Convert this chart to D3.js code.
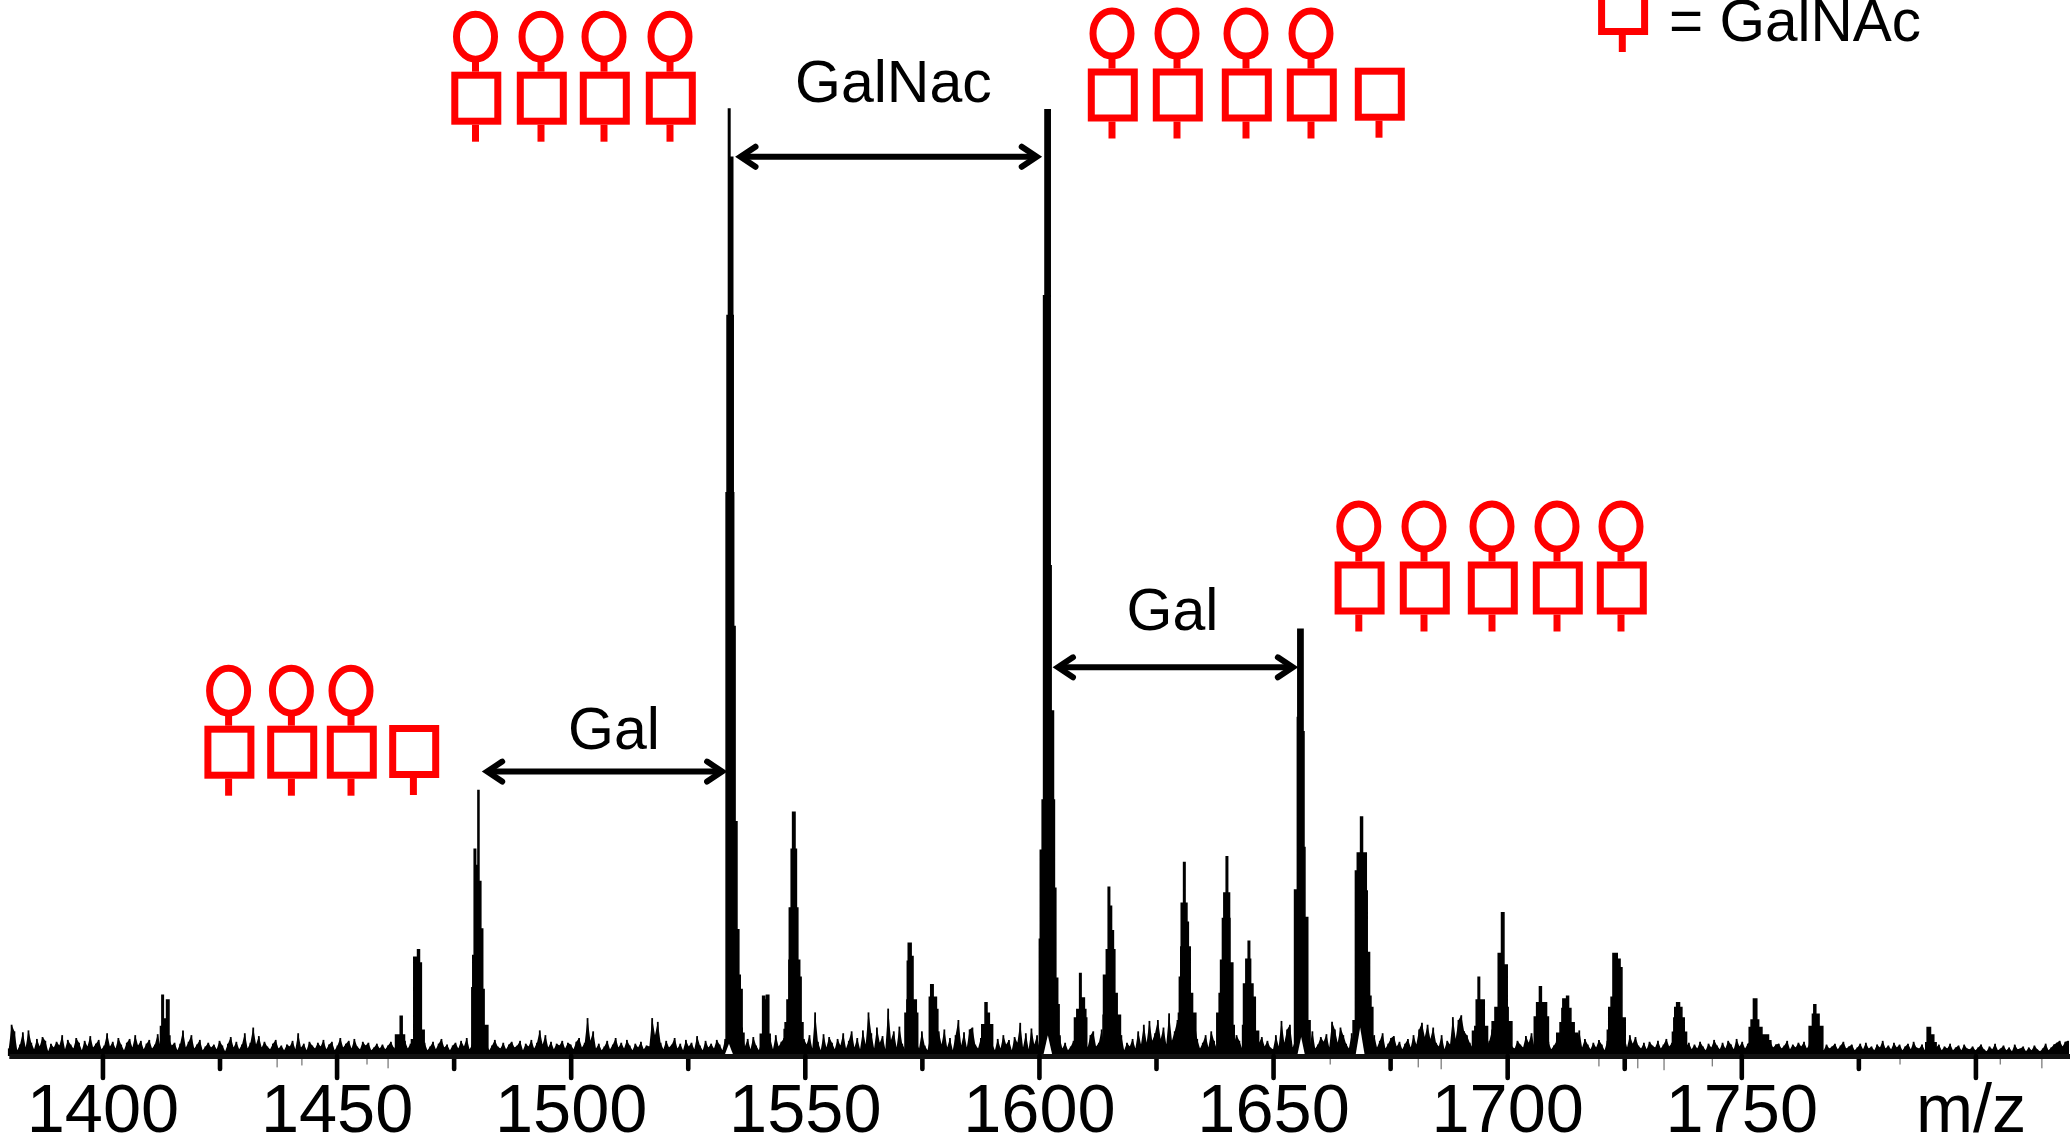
<!DOCTYPE html>
<html>
<head>
<meta charset="utf-8">
<title>m/z spectrum</title>
<script src="https://cdn.jsdelivr.net/npm/d3@7"></script>
<style>
  html, body { margin: 0; padding: 0; background: #fff; }
  svg { display: block; }
  text { font-family: "Liberation Sans", Arial, sans-serif; fill: #000; }
</style>
</head>
<body>
<div id="chart"></div>
<script>
// tick labels
var majorTicks = [1400, 1450, 1500, 1550, 1600, 1650, 1700, 1750, 1800];
var minorTicks = [1425, 1475, 1525, 1575, 1625, 1675, 1725, 1775];
var unlabelled = [1800];

// noise floor, relative intensity (tallest peak = 1000), one value every 0.6 m/z from 1380
var noiseStart = 1380;
var noiseStep = 0.6;
var noise = [
  8,33,26,6,12,25,9,27,14,7,18,10,20,16,5,13,9,15,11,22,7,17,12,8,19,14,6,16,10,21,9,13,17,7,11,24,10,15,8,19,12,6,14,18,9,22,11,16,7,13,
  17,8,12,23,10,15,7,19,11,14,6,13,27,9,15,22,8,12,17,6,10,14,9,12,7,16,11,5,13,20,9,15,7,12,24,8,14,30,12,21,9,15,10,7,13,17,8,11,6,12,
  10,16,7,24,9,13,6,15,11,8,14,10,17,7,12,15,6,11,19,9,13,16,8,18,10,7,15,11,14,6,9,13,8,12,7,11,15,9,6,12,10,16,8,13,7,15,9,12,14,6,
  10,15,7,13,18,9,12,6,11,14,8,16,10,19,7,12,15,9,18,8,13,6,11,17,10,8,14,7,12,15,9,11,16,6,13,10,17,8,14,27,12,22,9,15,7,13,11,16,8,14,
  12,7,15,19,9,14,40,16,26,8,13,6,10,16,7,12,19,9,14,8,17,11,6,13,9,15,7,11,10,40,22,36,14,7,16,9,12,19,8,13,6,17,10,14,7,21,11,6,16,9,
  13,8,17,12,6,18,14,9,19,7,15,30,10,18,7,20,11,6,16,14,8,19,7,22,10,15,19,8,14,21,9,17,7,18,12,22,8,46,15,6,23,9,20,14,7,18,11,24,8,16,
  26,9,19,7,27,12,46,24,8,30,14,21,7,50,17,26,9,31,13,7,24,10,28,15,8,26,11,6,20,14,7,26,12,28,9,19,6,22,38,11,25,9,28,30,12,8,19,24,10,27,
  13,6,18,8,22,12,17,6,20,14,35,9,24,7,29,12,22,6,19,14,9,16,7,12,20,8,14,6,10,16,11,20,7,18,9,22,26,10,14,28,7,16,24,9,19,12,22,6,14,10,
  18,8,26,12,33,14,37,16,24,38,18,30,12,45,16,26,38,14,33,40,12,36,40,18,8,14,22,9,26,16,7,14,25,11,28,50,13,22,16,8,26,12,18,24,8,14,20,10,16,9,
  7,22,10,37,14,28,33,9,18,7,24,12,21,10,26,8,12,20,15,23,9,36,28,14,30,22,13,8,24,9,17,26,11,19,7,14,22,9,16,24,8,13,19,21,10,15,7,13,18,9,
  22,12,28,35,20,33,18,30,14,10,22,7,16,12,41,18,38,43,26,22,14,9,16,11,7,14,10,16,28,12,24,9,22,14,20,10,8,16,12,9,21,14,24,10,7,18,12,9,15,7,
  11,16,8,13,26,14,22,25,16,27,9,18,12,7,14,9,17,12,6,16,8,13,19,10,15,21,9,22,13,20,11,8,14,7,15,11,9,16,8,12,18,10,14,9,15,7,12,10,14,7,
  12,8,15,10,6,13,9,17,11,7,14,8,16,12,7,18,10,15,8,13,16,9,12,6,14,10,7,15,9,12,13,8,11,16,7,12,9,14,10,15,8,13,7,11,14,9,6,12,8,10,
  13,7,11,15,8,10,12,6,9,13,7,14,8,10,6,12,9,16,8,11,7,14,9,12,6,10,13,7,15,9,8,12,6,11,14,7,9,12,6,10,8,13,6,9,11,6,12,8,7,10,
  6,9,12,7,5,10,7,13,6,8,11,6,9,5,12,7,8,10,5,9,6,11,7,5,8,13,6,9,12,14,16,10,15,16
];

// isotope envelopes: m/z of each step and the intensity that holds until the next step
var peakMz = [
  1412.4,1412.7,1413.0,1413.7,1414.2,1414.4,
  1462.6,1463.6,1464.0,1464.5,
  1466.0,1466.5,1467.3,1467.7,1468.1,1468.7,
  1478.9,1479.1,1479.4,1479.7,1480.2,1480.4,1480.8,1481.2,1481.5,1482.3,
  1533.2,1533.4,1533.7,1534.0,1534.3,1534.6,1534.7,1534.8,1535.1,1535.5,1535.9,1536.2,1536.6,1537.0,
  1540.5,1541.0,1541.4,1541.8,1542.3,1542.6,
  1545.6,1545.8,1546.2,1546.6,1546.7,1547.1,1547.4,1547.9,1548.2,1548.5,1548.9,1549.2,1549.6,
  1571.4,1571.8,1571.9,1572.1,1572.7,1573.1,1573.8,1574.1,
  1576.6,1576.9,1577.4,1577.7,1578.1,1578.4,
  1587.8,1588.5,1588.9,1589.4,1590.1,
  1600.1,1600.3,1600.7,1601.0,1601.3,1602.4,1602.6,1603.1,1603.3,1603.6,1604.0,1604.3,1604.5,
  1607.6,1608.1,1608.7,1609.0,1609.7,1610.0,1610.2,
  1613.7,1613.8,1614.4,1614.8,1615.1,1615.5,1615.9,1616.2,1616.7,1617.4,
  1629.8,1630.0,1630.3,1630.4,1630.9,1631.2,1631.6,1631.9,1632.3,1632.8,1633.5,
  1638.0,1638.5,1638.8,1639.2,1639.5,1640.0,1640.3,1640.7,1640.8,1641.0,1641.4,1641.7,
  1643.5,1643.7,1644.2,1644.7,1645.0,1645.2,1645.7,1646.2,1646.9,
  1654.6,1655.2,1655.3,1655.8,1655.9,1656.4,1656.6,1656.8,1657.4,1657.9,
  1667.1,1667.6,1668.0,1668.7,1669.1,1669.9,1670.1,1670.6,1670.9,1671.3,
  1692.6,1693.1,1693.4,1693.8,1694.1,1695.1,1695.8,
  1696.8,1697.4,1698.1,1698.8,1699.3,1700.0,1700.2,1701.0,
  1705.8,1706.3,1706.9,1707.3,1708.4,1708.8,
  1710.6,1711.3,1711.7,1711.9,1712.6,1712.7,1713.1,1713.6,1714.3,1715.0,
  1721.4,1721.7,1722.2,1722.6,1723.5,1724.1,1724.5,1725.2,
  1735.3,1735.6,1735.8,1736.2,1736.8,1737.3,1737.8,1738.3,
  1751.7,1752.1,1752.6,1753.3,1753.7,1754.4,1754.7,1755.8,1756.3,
  1764.5,1765.2,1765.5,1765.9,1766.6,1767.4,
  1789.4,1789.7,1790.4,1791.1,1791.6
];
var peakInt = [
  31,64,39,59,21,0,
  22,42,22,0,
  17,104,112,98,27,0,
  72,106,218,201,280,184,134,70,32,0,
  594,781,999,875,948,781,594,453,247,133,85,70,24,0,
  23,63,59,64,23,0,
  28,35,59,101,156,218,257,218,156,101,83,35,0,
  45,59,100,119,105,59,45,0,
  62,75,53,62,49,0,
  33,56,45,33,0,
  123,217,270,802,998,517,364,270,177,82,54,21,0,
  40,49,87,61,49,40,0,
  43,85,112,178,158,132,112,66,43,0,
  45,83,115,161,204,161,141,115,66,45,0,
  45,66,101,145,172,210,172,145,90,98,32,0,
  32,76,102,121,102,76,62,26,0,
  175,357,450,422,450,342,220,146,37,0,
  37,195,214,252,214,174,109,63,51,0,
  26,31,59,83,59,31,0,
  36,51,108,151,96,51,36,0,
  41,56,73,56,41,0,
  24,35,50,60,55,63,50,35,24,0,
  27,51,62,108,102,93,40,0,
  25,40,51,56,51,40,25,0,
  30,38,60,38,30,16,22,16,0,
  31,44,54,44,31,0,
  14,30,22,14,0
];

// white gaps at the feet of the biggest peaks
var gapMz = [1533.8, 1601.9, 1656.0, 1668.6];
var gapWidth = [2.0, 2.0, 1.7, 2.0];
var gapInt = [13, 22, 20, 30];

// small dips under the baseline
var dipMz = [1437.3,1442.6,1456.5,1461.0,1662.2,1681.0,1685.9,1719.6,1727.9,1733.5,1743.8,1783.9,1805.3,1814.2];
var dipInt = [-12,-10,-9,-13,-9,-12,-14,-11,-13,-15,-11,-9,-9,-13];

// arrows between peaks: m/z from, m/z to, intensity level
var arrowFrom = [1481.1, 1535.2, 1603.0];
var arrowTo = [1533.4, 1600.6, 1655.3];
var arrowLevel = [300, 948.6, 410];
var arrowLabels = ["Gal", "GalNac", "Gal"];

// glycan cartoons, one list of stem positions per group
var glycanStems = [
  [228.6, 291.4, 351],
  [475.5, 541, 604, 670],
  [1112, 1177, 1246, 1311],
  [1358.8, 1424, 1492, 1557, 1621]
];
var glycanTops = [725.7, 71.7, 68.5, 561.5];
var bareStems = [413.4, 1379, 1622.3];
var bareTops = [725, 67.7, -18];

var width = 2070, height = 1143;

var x = d3.scaleLinear().domain([1380, 1820.2]).range([8.8, 2070]);
var y = d3.scaleLinear().domain([0, 1000]).range([1056, 108]);

var svg = d3.select("#chart").append("svg")
  .attr("width", width)
  .attr("height", height);

var noiseData = noise.map(function(v, i) {
  return { mz: noiseStart + i * noiseStep, v: v };
});
var peakData = peakMz.map(function(m, i) {
  return { mz: m, v: peakInt[i] };
});

// spectrum
var noiseArea = d3.area()
  .x(function(d) { return x(d.mz); })
  .y0(y(0))
  .y1(function(d) { return y(d.v); });

svg.append("path").datum(noiseData)
  .attr("d", noiseArea)
  .attr("fill", "#000");

svg.selectAll(".noise").data(noiseData).enter().append("line")
  .attr("class", "noise")
  .attr("x1", function(d) { return x(d.mz); })
  .attr("x2", function(d) { return x(d.mz); })
  .attr("y1", y(0))
  .attr("y2", function(d) { return y(d.v); })
  .attr("stroke", "#000")
  .attr("stroke-width", 1.8);

var peakArea = d3.area()
  .curve(d3.curveStepAfter)
  .x(function(d) { return x(d.mz); })
  .y0(y(0))
  .y1(function(d) { return y(d.v); });

svg.append("path").datum(peakData)
  .attr("d", peakArea)
  .attr("fill", "#000")
  .attr("stroke", "#000")
  .attr("stroke-width", 1.6);

svg.selectAll(".gap").data(gapMz).enter().append("path")
  .attr("class", "gap")
  .attr("d", function(d, i) {
    var half = gapWidth[i] / 2;
    return "M" + x(d - half) + "," + y(0) + "L" + x(d) + "," + y(gapInt[i]) + "L" + x(d + half) + "," + y(0) + "Z";
  })
  .attr("fill", "#fff");

svg.selectAll(".dip").data(dipMz).enter().append("line")
  .attr("class", "dip")
  .attr("x1", function(d) { return x(d); })
  .attr("x2", function(d) { return x(d); })
  .attr("y1", y(0))
  .attr("y2", function(d, i) { return y(dipInt[i]); })
  .attr("stroke", "#555")
  .attr("stroke-width", 1);

// axis
var axisMinor = d3.axisBottom(x).tickValues(minorTicks).tickSize(13).tickFormat("");
var axisMajor = d3.axisBottom(x).tickValues(majorTicks).tickSize(22).tickSizeOuter(0)
  .tickFormat(function(d) { return unlabelled.indexOf(d) >= 0 ? "" : d; });

var gMinor = svg.append("g").attr("transform", "translate(0," + y(0) + ")").call(axisMinor);
var gMajor = svg.append("g").attr("transform", "translate(0," + y(0) + ")").call(axisMajor);

gMinor.select(".domain").remove();
gMajor.select(".domain").attr("stroke", "#111").attr("stroke-width", 5);
svg.selectAll(".tick line")
  .attr("stroke", "#000")
  .attr("stroke-width", 4.6)
  .attr("stroke-linecap", "round");
gMajor.selectAll(".tick text")
  .attr("y", 76)
  .attr("dy", 0)
  .attr("font-size", 68.5)
  .style("font-family", '"Liberation Sans", Arial, sans-serif')
  .attr("fill", "#000");

svg.append("text")
  .attr("x", 1916)
  .attr("y", 1132)
  .attr("font-size", 68.5)
  .text("m/z");

// arrows
var arrows = arrowFrom.map(function(a, i) {
  return { a: x(a), b: x(arrowTo[i]), yy: y(arrowLevel[i]) };
});
var arrowG = svg.selectAll(".arrow").data(arrows).enter().append("g").attr("class", "arrow");

arrowG.append("line")
  .attr("x1", function(d) { return d.a + 5; })
  .attr("x2", function(d) { return d.b - 5; })
  .attr("y1", function(d) { return d.yy; })
  .attr("y2", function(d) { return d.yy; })
  .attr("stroke", "#000")
  .attr("stroke-width", 6);

function head(px, py, dir) {
  return "M" + (px + dir * 20) + "," + (py - 10) +
    "L" + (px + dir * 5) + "," + py +
    "L" + (px + dir * 20) + "," + (py + 10);
}
arrowG.append("path")
  .attr("d", function(d) { return head(d.a, d.yy, 1) + head(d.b, d.yy, -1); })
  .attr("fill", "none")
  .attr("stroke", "#000")
  .attr("stroke-width", 6)
  .attr("stroke-linecap", "round")
  .attr("stroke-linejoin", "miter");

var labelX = [568, 795, 1126.5];
var labelY = [749, 101.7, 630];
svg.selectAll(".arrow-label").data(arrowLabels).enter().append("text")
  .attr("class", "arrow-label")
  .attr("x", function(d, i) { return labelX[i]; })
  .attr("y", function(d, i) { return labelY[i]; })
  .attr("font-size", 59)
  .text(function(d) { return d; });

svg.append("text")
  .attr("x", 1669)
  .attr("y", 40.7)
  .attr("font-size", 58.5)
  .text("= GalNAc");

// glycans
var red = "#ff0000";

function square(g, sx, top) {
  g.append("rect")
    .attr("x", sx - 21.5 + 0.8)
    .attr("y", top + 3.5)
    .attr("width", 43)
    .attr("height", 46)
    .attr("fill", "none")
    .attr("stroke", red)
    .attr("stroke-width", 7);
  g.append("line")
    .attr("x1", sx).attr("x2", sx)
    .attr("y1", top + 53).attr("y2", top + 70)
    .attr("stroke", red)
    .attr("stroke-width", 7);
}

glycanStems.forEach(function(stems, k) {
  var top = glycanTops[k];
  stems.forEach(function(sx) {
    var g = svg.append("g");
    square(g, sx, top);
    g.append("line")
      .attr("x1", sx).attr("x2", sx)
      .attr("y1", top - 10).attr("y2", top)
      .attr("stroke", red)
      .attr("stroke-width", 7);
    g.append("ellipse")
      .attr("cx", sx)
      .attr("cy", top - 35)
      .attr("rx", 19)
      .attr("ry", 22.5)
      .attr("fill", "none")
      .attr("stroke", red)
      .attr("stroke-width", 7);
  });
});

bareStems.forEach(function(sx, k) {
  square(svg.append("g"), sx, bareTops[k]);
});
</script>
</body>
</html>
